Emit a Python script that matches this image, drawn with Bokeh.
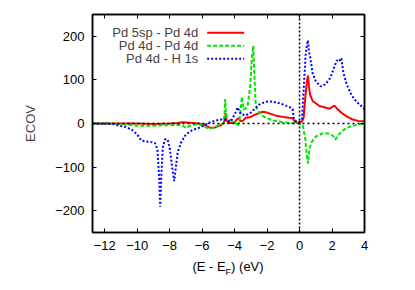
from bokeh.plotting import figure
from bokeh.models import (ColumnDataSource, Range1d, FixedTicker, LinearAxis, Span,
                          Label, Arrow, Div)
from bokeh.layouts import column
from bokeh.embed import file_html
from bokeh.resources import INLINE

# ---------------- data ----------------
red_x = [-12.75, -11, -10, -9, -8, -7.5, -7.2, -6.8, -6.2, -5.9, -5.5, -5.2, -4.9, -4.7, -4.6,
         -4.55, -4.5, -4.4, -4.2, -4.0, -3.85, -3.75, -3.65, -3.5, -3.3, -3.0, -2.7, -2.28, -2.0,
         -1.46, -1.0, -0.63, -0.41, -0.3, -0.15, 0.0, 0.15, 0.25, 0.36, 0.45, 0.52, 0.58, 0.65,
         0.82, 1.23, 1.85, 2.15, 2.36, 2.6, 2.87, 3.28, 3.6, 4.0]
red_y = [0, 0, 0, -1, 0, 1, 3, 2, 0, -3, -10, -9, -5, 0, 8,
         24, 8, 2, 1, 3, 10, 12, 6, 6, 13, 15, 21, 27, 25,
         18, 15, 13, 12, 4, 2, 2, 5, 12, 62, 95, 110, 85, 66,
         51, 40, 34, 41, 32, 24, 17, 9, 6, 5]

green_x = [-12.75, -11.5, -11, -10.5, -10, -9.5, -9, -8.5, -8, -7.5, -7.2, -7.0, -6.8, -6.5,
           -6.2, -6.0, -5.8, -5.56, -5.3, -5.0, -4.69, -4.62, -4.58, -4.54, -4.5, -4.33, -4.02,
           -3.8, -3.7, -3.65, -3.55, -3.45, -3.3, -3.2, -3.04, -2.94, -2.85, -2.78, -2.7, -2.6,
           -2.3, -2.0, -1.6, -1.0, -0.5, 0.0, 0.2, 0.35, 0.45, 0.53, 0.6, 0.75, 1.0, 1.4, 1.8,
           2.05, 2.2, 2.35, 2.6, 2.9, 3.3, 3.7, 4.0]
green_y = [0, 0, -1, -3, -5, -5, -5, -4, -4, -3, -5, -10, -6, -3,
           -2, -4, -8, -12, -10, -4, 0, 20, 56, 30, 16, 9, 5,
           -6, 5, 25, 61, 32, 35, 40, 85, 150, 178, 110, 45, 30,
           18, 12, 7, 3, 1, 0, -5, -35, -75, -92, -60, -42, -30, -23, -23,
           -28, -37, -28, -18, -10, -5, -2, 0]

blue_x = [-12.75, -11.5, -11.1, -10.7, -10.3, -10.0, -9.75, -9.5, -9.2, -8.9, -8.75, -8.65,
          -8.58, -8.5, -8.42, -8.3, -8.2, -8.1, -7.98, -7.85, -7.72, -7.6, -7.5, -7.3, -7.0,
          -6.6, -6.2, -5.9, -5.56, -5.15, -4.8, -4.6, -4.4, -4.25, -4.1, -3.95, -3.82, -3.7,
          -3.6, -3.3, -3.0, -2.8, -2.5, -2.2, -1.87, -1.5, -1.2, -0.9, -0.63, -0.42, -0.35,
          -0.2, 0.0, 0.15, 0.3, 0.38, 0.45, 0.52, 0.58, 0.65, 0.8, 1.0, 1.3, 1.6, 1.9, 2.15,
          2.3, 2.45, 2.52, 2.58, 2.7, 2.9, 3.2, 3.5, 3.8, 4.0]
blue_y = [0, -1, -5, -8, -15, -25, -39, -41, -42, -45, -60, -120,
          -191, -110, -55, -37, -35, -40, -60, -100, -132, -95, -65, -44, -25,
          -15, -10, -5, 2, 7, 9, 9, 6, 4, 13, 25, 37, 28,
          21, 19, 25, 32, 43, 48, 51, 49, 46, 42, 38, 33, 10,
          5, 4, 10, 108, 162, 180, 191, 165, 154, 116, 97, 85, 90, 105, 131,
          145, 142, 150, 148, 116, 90, 65, 50, 40, 33]

series_names = ["Pd 5sp - Pd 4d", "Pd 4d - Pd 4d", "Pd 4d - H 1s"]
x_ticks = [-12, -10, -8, -6, -4, -2, 0, 2, 4]
y_ticks = [-200, -100, 0, 100, 200]
x_range = (-12.75, 4)
y_range = (-250, 250)
y_label = "ECOV"
x_label_html = "(E - E<sub style='font-size:9px'>F</sub>) (eV)"

# ---------------- styling ----------------
FONT = "Liberation Sans"
FS = "13px"
colors = ["#ff0000", "#00e600", "#0000ff"]
dashes = ["solid", "4 2", "2 2"]

p = figure(width=407, height=258, output_backend="svg", toolbar_location=None,
           x_range=Range1d(*x_range), y_range=Range1d(*y_range),
           min_border_left=92, min_border_right=43, min_border_top=14, min_border_bottom=26)
p.background_fill_color = "white"
p.border_fill_color = "white"
p.grid.visible = False
p.outline_line_color = "black"
p.outline_line_width = 1.5

for ax in (p.xaxis[0], p.yaxis[0]):
    ax.major_tick_in = 4
    ax.major_tick_out = 0
    ax.minor_tick_line_color = None
    ax.axis_line_width = 1.5
    ax.major_tick_line_width = 1
    ax.major_label_text_font = FONT
    ax.major_label_text_font_size = FS
    ax.major_label_text_color = "black"
    ax.major_label_standoff = 8

p.xaxis[0].ticker = FixedTicker(ticks=x_ticks)
p.yaxis[0].ticker = FixedTicker(ticks=y_ticks)
p.yaxis[0].axis_label = y_label
p.yaxis[0].axis_label_text_font = FONT
p.yaxis[0].axis_label_text_font_size = FS
p.yaxis[0].axis_label_text_font_style = "normal"
p.yaxis[0].axis_label_standoff = 14

# mirrored ticks on top / right (labels not drawn)
top_ax = LinearAxis(ticker=FixedTicker(ticks=x_ticks), major_label_text_font_size="6px",
                    major_label_text_color=None,
                    major_label_standoff=0, major_tick_in=4, major_tick_out=0,
                    minor_tick_line_color=None, axis_line_width=1.5)
right_ax = LinearAxis(ticker=FixedTicker(ticks=y_ticks), major_label_text_font_size="6px",
                      major_label_text_color=None,
                      major_label_standoff=0, major_tick_in=4, major_tick_out=0,
                      minor_tick_line_color=None, axis_line_width=1.5)
p.add_layout(top_ax, "above")
p.add_layout(right_ax, "right")

# zero axes (dotted)
p.add_layout(Span(location=0, dimension="width", line_color="black",
                  line_dash="2 3", line_width=1.5))
p.add_layout(Span(location=0, dimension="height", line_color="black",
                  line_dash="2 2", line_width=1.5))

xs = [red_x, green_x, blue_x]
ys = [red_y, green_y, blue_y]
for x, y, c, d in zip(xs, ys, colors, dashes):
    src = ColumnDataSource(dict(x=x, y=y))
    p.line("x", "y", source=src, line_color=c, line_dash=d, line_width=2)

# legend in gnuplot style: right-aligned text, sample line to the right
leg_text_x = -6.24
leg_line = (-5.69, -3.41)
leg_rows = [208, 178.5, 148.7]
for name, c, d, yy in zip(series_names, colors, dashes, leg_rows):
    p.add_layout(Label(x=leg_text_x, y=yy, text=name, text_align="right",
                       text_baseline="middle", text_font=FONT, text_font_size=FS))
    p.add_layout(Arrow(end=None, x_start=leg_line[0], y_start=yy, x_end=leg_line[1],
                       y_end=yy, line_color=c, line_dash=d, line_width=2))

# x axis label with subscript (HTML text below the plot)
xlab = Div(text=x_label_html, width=272, height=18, margin=(1, 0, 0, 92),
           styles={"text-align": "center", "font-family": FONT, "font-size": FS,
                   "color": "black", "line-height": "15px"})

layout = column(p, xlab, spacing=0)
open("out.html", "w").write(file_html(layout, INLINE))
